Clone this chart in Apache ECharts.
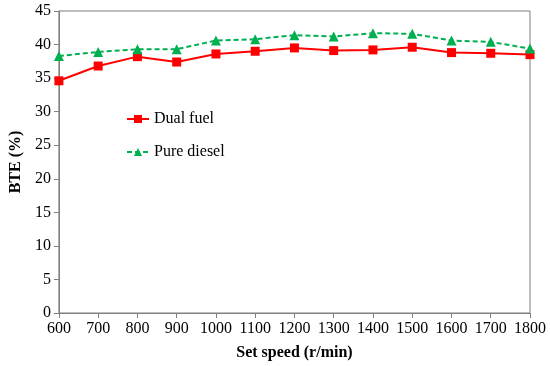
<!DOCTYPE html>
<html><head><meta charset="utf-8">
<script src="https://cdn.jsdelivr.net/npm/echarts@6/dist/echarts.min.js"></script>
<style>html,body{margin:0;padding:0;background:#fff}#c{width:550px;height:366px}</style>
</head><body><div id="c"></div>
<script>
var speeds = [600,700,800,900,1000,1100,1200,1300,1400,1500,1600,1700,1800];
var dualFuel = [34.6,36.8,38.2,37.4,38.6,39.0,39.5,39.1,39.2,39.6,38.8,38.7,38.5];
var pureDiesel = [38.3,38.9,39.3,39.3,40.6,40.8,41.4,41.2,41.7,41.6,40.6,40.4,39.4];
var font = '"Liberation Serif", "DejaVu Serif", serif';
function pairs(xs, ys){ return xs.map(function(x,i){return [x, ys[i]];}); }
var chart = echarts.init(document.getElementById('c'));
chart.setOption({
  animation:false,
  textStyle:{fontFamily:font},
  grid:{left:58,right:20,top:11,bottom:52,show:true,borderColor:'#7f7f7f',borderWidth:1},
  legend:{orient:'vertical',left:121,top:106,itemGap:17,itemWidth:22,itemHeight:10,
    textStyle:{fontFamily:font,fontSize:16,color:'#000'},
    data:['Dual fuel','Pure diesel']},
  xAxis:{type:'value',min:600,max:1800,interval:100,
    name:'Set speed (r/min)',nameLocation:'middle',nameGap:32,
    nameTextStyle:{fontFamily:font,fontSize:16,fontWeight:'bold',color:'#000'},
    axisLine:{lineStyle:{color:'#7f7f7f'}},
    axisTick:{show:true,inside:false,length:5,lineStyle:{color:'#7f7f7f'}},
    axisLabel:{fontFamily:font,fontSize:16,color:'#000',margin:8,formatter:function(v){return String(v);}},
    splitLine:{show:false}},
  yAxis:{type:'value',min:0,max:45,interval:5,
    name:'BTE (%)',nameLocation:'middle',nameGap:32,nameRotate:90,
    nameTextStyle:{fontFamily:font,fontSize:16,fontWeight:'bold',color:'#000'},
    axisLine:{show:true,lineStyle:{color:'#7f7f7f'}},
    axisTick:{show:true,inside:false,length:5,lineStyle:{color:'#7f7f7f'}},
    axisLabel:{fontFamily:font,fontSize:16,color:'#000',margin:8},
    splitLine:{show:false}},
  series:[
    {name:'Dual fuel',type:'line',data:pairs(speeds,dualFuel),symbol:'rect',symbolSize:9,
     itemStyle:{color:'#ff0000'},lineStyle:{color:'#ff0000',width:2}},
    {name:'Pure diesel',type:'line',data:pairs(speeds,pureDiesel),symbol:'triangle',symbolSize:10,
     itemStyle:{color:'#00b050'},lineStyle:{color:'#00b050',width:2,type:[5,3]}}
  ]
});
</script></body></html>
